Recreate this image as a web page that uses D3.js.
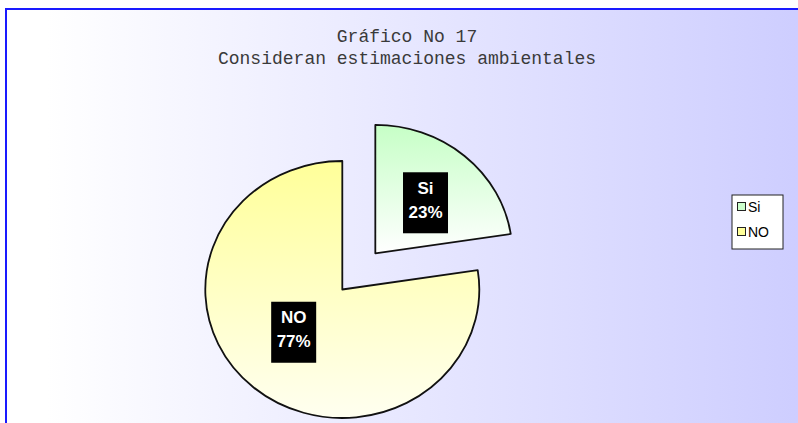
<!DOCTYPE html>
<html>
<head>
<meta charset="utf-8">
<script src="https://cdn.jsdelivr.net/npm/d3@7"></script>
<style>
  html, body { margin: 0; padding: 0; background: #ffffff; }
  svg { display: block; }
</style>
</head>
<body>
<svg id="chart" width="798" height="423"></svg>
<script>
// ---- data ----
const titleLines = ["Gráfico No 17", "Consideran estimaciones ambientales"];
const categories = ["Si", "NO"];
const values = [7, 24];
const explodeFlags = [true, false];

// ---- styles ----
const topColors = ["#c6ffc6", "#ffff99"];
const bottomColors = ["#ffffff", "#fffff0"];
const swatchColors = ["#ccffcc", "#ffff99"];

const W = 798, H = 423;
const svg = d3.select("#chart");
const defs = svg.append("defs");

// background gradient
const bg = defs.append("linearGradient").attr("id", "bgGrad")
  .attr("x1", "0").attr("y1", "0").attr("x2", "1").attr("y2", "0");
bg.append("stop").attr("offset", "0").attr("stop-color", "#ffffff");
bg.append("stop").attr("offset", "0.05").attr("stop-color", "#ffffff");
bg.append("stop").attr("offset", "1").attr("stop-color", "#ccccff");

svg.append("rect").attr("x", 0).attr("y", 0).attr("width", W).attr("height", H).attr("fill", "#ffffff");
svg.append("rect").attr("x", 6).attr("y", 9).attr("width", W + 20).attr("height", H + 20)
  .attr("fill", "url(#bgGrad)").attr("stroke", "#1a1aff").attr("stroke-width", 2);

// slice gradients
categories.forEach((c, i) => {
  const g = defs.append("linearGradient").attr("id", "sg" + i)
    .attr("x1", "0").attr("y1", "0").attr("x2", "0").attr("y2", "1");
  g.append("stop").attr("offset", "0").attr("stop-color", topColors[i]);
  g.append("stop").attr("offset", "1").attr("stop-color", bottomColors[i]);
});

// title
const title = svg.append("text").attr("text-anchor", "middle")
  .attr("font-family", "'Courier New', 'Liberation Mono', monospace")
  .attr("font-size", 18).attr("fill", "#3a3a3a");
titleLines.forEach((t, i) => {
  title.append("tspan").attr("x", 407).attr("y", 42 + i * 22).text(t);
});

// pie
const cx = 342.3, cy = 289.5;
const ry = 128.5, rx = 137;
const sx = rx / ry;
const explode = 0.37 * ry;

const pie = d3.pie().sort(null).value(d => d)(values);
const arc = d3.arc().innerRadius(0).outerRadius(ry);
const total = d3.sum(values);
const fmt = d3.format(".0%");

const slices = pie.map((p, i) => {
  const mid = (p.startAngle + p.endAngle) / 2;
  const off = explodeFlags[i] ? explode : 0;
  const ox = cx + off * Math.sin(mid) * sx;
  const oy = cy - off * Math.cos(mid);
  return { p, i, mid, ox, oy };
});

slices.forEach(s => {
  svg.append("g")
    .attr("transform", `translate(${s.ox},${s.oy}) scale(${sx},1)`)
    .append("path")
    .attr("d", arc(s.p))
    .attr("fill", `url(#sg${s.i})`)
    .attr("stroke", "#111111")
    .attr("stroke-width", 1.8)
    .attr("stroke-linejoin", "round")
    .attr("vector-effect", "non-scaling-stroke");
});

// labels
const labelFrac = [0.54, 0.5];
const labelShift = [[2, 2], [-4, -6]];
slices.forEach(s => {
  const f = labelFrac[s.i];
  const lx = s.ox + f * rx * Math.sin(s.mid) + labelShift[s.i][0];
  const ly = s.oy - f * ry * Math.cos(s.mid) + labelShift[s.i][1];
  const g = svg.append("g").attr("transform", `translate(${lx},${ly})`);
  g.append("rect").attr("x", -22.5).attr("y", -30.5).attr("width", 45).attr("height", 61).attr("fill", "#000000");
  const t = g.append("text").attr("text-anchor", "middle")
    .attr("font-family", "Arial, 'Liberation Sans', sans-serif")
    .attr("font-weight", "bold").attr("font-size", 17).attr("fill", "#ffffff");
  t.append("tspan").attr("x", 0).attr("y", -9).text(categories[s.i]);
  t.append("tspan").attr("x", 0).attr("y", 15).text(fmt(values[s.i] / total));
});

// legend
const lg = svg.append("g").attr("transform", "translate(732,195)");
lg.append("rect").attr("x", 0).attr("y", 0).attr("width", 51).attr("height", 54)
  .attr("fill", "#ffffff").attr("stroke", "#222222").attr("stroke-width", 1);
categories.forEach((c, i) => {
  const y = 15 + i * 25;
  lg.append("rect").attr("x", 5.5).attr("y", y - 7.5).attr("width", 8).attr("height", 8)
    .attr("fill", swatchColors[i]).attr("stroke", "#222222").attr("stroke-width", 1);
  lg.append("text").attr("x", 16).attr("y", y + 1.5)
    .attr("font-family", "Arial, 'Liberation Sans', sans-serif")
    .attr("font-size", 14).attr("fill", "#000000").text(c);
});
</script>
</body>
</html>
